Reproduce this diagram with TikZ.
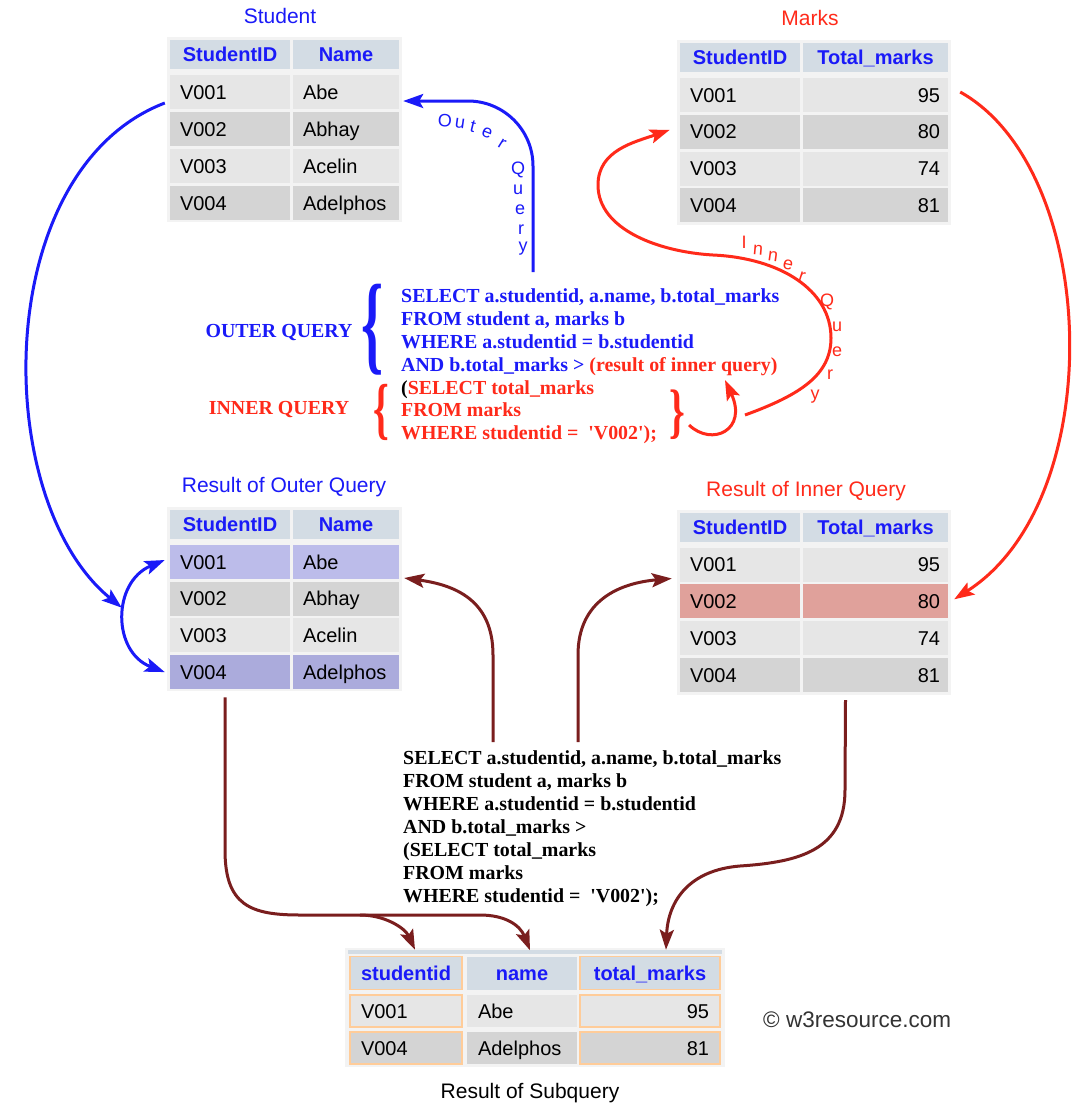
\documentclass[tikz,border=0pt]{standalone}
\usepackage{fontspec}
\usepackage{graphicx}
\setmainfont{Liberation Sans}
\newfontfamily\sqlfamily{Liberation Serif}
\usetikzlibrary{arrows.meta}

\definecolor{qblue}{HTML}{1A1AF8}
\definecolor{qred}{HTML}{FF2A1A}
\definecolor{qdark}{HTML}{7A1E1E}
\definecolor{hdrfill}{HTML}{D3DCE4}
\definecolor{rowa}{HTML}{E6E6E6}
\definecolor{rowb}{HTML}{D4D4D4}
\definecolor{hlblue}{HTML}{BCBCEA}
\definecolor{hlbluedark}{HTML}{ABABDC}
\definecolor{hlred}{HTML}{E0A19B}
\definecolor{cellline}{HTML}{FFCC99}
\definecolor{tblbg}{HTML}{F3F3F3}

\newcommand{\cellfont}{\fontsize{20}{24}\selectfont}
\newcommand{\titlefont}{\fontsize{21}{25}\selectfont}
\newcommand{\sqlfont}{\sqlfamily\bfseries\fontsize{19.9}{23}\selectfont}
\newcommand{\bracefont}{\sqlfamily\bfseries\fontsize{20}{20}\selectfont}

\begin{document}
\begin{tikzpicture}[x=1pt,y=-1pt,>={Stealth[length=20pt,width=14pt,inset=4pt]},
  cell/.style={inner xsep=10pt,inner ysep=0pt,minimum height=34pt,text height=14.3pt,text depth=0pt,font=\cellfont},
  idcell/.style={cell,text width=100pt,align=left},
  namecell/.style={cell,text width=86pt,align=left},
  numcell/.style={cell,inner xsep=8pt,text width=129pt,align=right},
  hdrcell/.style={fill=hdrfill,inner sep=0pt,minimum height=29pt,text height=14.3pt,text depth=0pt,font=\cellfont\bfseries,text=qblue},
  subcell/.style={cell,inner xsep=11pt,minimum height=32pt},
  title/.style={font=\titlefont,inner sep=0pt},
  sqltext/.style={font=\sqlfont,align=left,inner sep=0pt,anchor=north west},
  curvetext/.style={font=\fontsize{18}{20}\selectfont,inner sep=0pt},
  outerline/.style={qblue,line width=3pt},
  innerline/.style={qred,line width=3pt},
  joinline/.style={qdark,line width=3pt}]

  \fill[white] (0,0) rectangle (1077,1106);
  \useasboundingbox (0,0) rectangle (1077,1106);

  % Student
  \fill[tblbg] (167,37) rectangle (402,222);
  \node[title,text=qblue] (stu-title) at (280,16) {Student};
  \node[hdrcell,minimum width=120pt] (stu-h-a) at (230,54) {StudentID};
  \node[hdrcell,minimum width=106pt] (stu-h-b) at (346,54) {Name};
  \foreach \sid/\sname/\rowfill [count=\i] in {V001/Abe/rowa,V002/Abhay/rowb,V003/Acelin/rowa,V004/Adelphos/rowb}{
    \node[idcell,fill=\rowfill] (stu-\i-a) at (230,{92+37*(\i-1)}) {\sid};
    \node[namecell,fill=\rowfill] (stu-\i-b) at (346,{92+37*(\i-1)}) {\sname};
  }

  % Marks
  \fill[tblbg] (677,40) rectangle (951,225);
  \node[title,text=qred] (mk-title) at (810,18) {Marks};
  \node[hdrcell,minimum width=120pt] (mk-h-a) at (740,57.5) {StudentID};
  \node[hdrcell,minimum width=145pt] (mk-h-b) at (875.5,57.5) {Total\_marks};
  \foreach \sid/\smark/\rowfill [count=\i] in {V001/95/rowa,V002/80/rowb,V003/74/rowa,V004/81/rowb}{
    \node[idcell,fill=\rowfill] (mk-\i-a) at (740,{95+36.8*(\i-1)}) {\sid};
    \node[numcell,fill=\rowfill] (mk-\i-b) at (875.5,{95+36.8*(\i-1)}) {\smark};
  }

  % Result of Outer Query
  \fill[tblbg] (167,507) rectangle (402,691);
  \node[title,text=qblue] (ro-title) at (284,487) {Result of Outer Query};
  \node[hdrcell,minimum width=120pt] (ro-h-a) at (230,524) {StudentID};
  \node[hdrcell,minimum width=106pt] (ro-h-b) at (346,524) {Name};
  \foreach \sid/\sname/\rowfill [count=\i] in {V001/Abe/hlblue,V002/Abhay/rowb,V003/Acelin/rowa,V004/Adelphos/hlbluedark}{
    \node[idcell,fill=\rowfill] (ro-\i-a) at (230,{562+36.7*(\i-1)}) {\sid};
    \node[namecell,fill=\rowfill] (ro-\i-b) at (346,{562+36.7*(\i-1)}) {\sname};
  }

  % Result of Inner Query
  \fill[tblbg] (677,510) rectangle (951,695);
  \node[title,text=qred] (ri-title) at (806,491) {Result of Inner Query};
  \node[hdrcell,minimum width=120pt] (ri-h-a) at (740,527) {StudentID};
  \node[hdrcell,minimum width=145pt] (ri-h-b) at (875.5,527) {Total\_marks};
  \foreach \sid/\smark/\rowfill [count=\i] in {V001/95/rowa,V002/80/hlred,V003/74/rowa,V004/81/rowb}{
    \node[idcell,fill=\rowfill] (ri-\i-a) at (740,{564.5+36.8*(\i-1)}) {\sid};
    \node[numcell,fill=\rowfill] (ri-\i-b) at (875.5,{564.5+36.8*(\i-1)}) {\smark};
  }

  % Result of Subquery
  \fill[tblbg] (345,948) rectangle (725,1067);
  \fill[hdrfill] (348,950) rectangle (722,954);
  \node[hdrcell,minimum width=112pt,minimum height=33pt,draw=cellline,line width=1.5pt] (sq-h-a) at (406,973) {studentid};
  \node[hdrcell,minimum width=110pt,minimum height=33pt] (sq-h-b) at (522,973) {name};
  \node[hdrcell,minimum width=140pt,minimum height=33pt,draw=cellline,line width=1.5pt] (sq-h-c) at (650,973) {total\_marks};
  \foreach \sid/\sname/\smark/\rowfill [count=\i] in {V001/Abe/95/rowa,V004/Adelphos/81/rowb}{
    \node[subcell,text width=90pt,align=left,fill=\rowfill,draw=cellline,line width=1.5pt] (sq-\i-a) at (406,{1011+37*(\i-1)}) {\sid};
    \node[subcell,text width=88pt,align=left,fill=\rowfill] (sq-\i-b) at (522,{1011+37*(\i-1)}) {\sname};
    \node[subcell,text width=118pt,align=right,fill=\rowfill,draw=cellline,line width=1.5pt] (sq-\i-c) at (650,{1011+37*(\i-1)}) {\smark};
  }
  \node[title] (sq-title) at (530,1093) {Result of Subquery};
  \node[font=\fontsize{22.5}{25}\selectfont,inner sep=0pt,anchor=west,text=black!80] (copy) at (763,1020) {\textcopyright\ w3resource.com};

  % queries
  \node[sqltext,text=qblue] (outer-sql) at (401,288) {SELECT a.studentid, a.name, b.total\_marks\\
    FROM student a, marks b\\
    WHERE a.studentid = b.studentid\\
    AND b.total\_marks > \textcolor{qred}{(result of inner query)}};
  \node[sqltext,text=qred,font=\sqlfamily\bfseries\fontsize{19.9}{22.5}\selectfont] (inner-sql) at (401,380) {\textcolor{black}{(}SELECT total\_marks\\
    FROM marks\\
    WHERE studentid = \ \textquotesingle V002\textquotesingle);};
  \node[font=\sqlfont,text=qblue,inner sep=0pt] (outer-label) at (279,333) {OUTER QUERY};
  \node[font=\sqlfont,text=qred,inner sep=0pt] (inner-label) at (279,410) {INNER QUERY};
  \node[text=qblue,inner sep=0pt] (brace-outer) at (373,330) {\scalebox{2.8}[5.5]{\bracefont\{}};
  \node[text=qred,inner sep=0pt] (brace-inner) at (381,412) {\scalebox{2.0}[3.4]{\bracefont\{}};
  \node[text=qred,inner sep=0pt] (brace-close) at (677,415) {\scalebox{2.0}[3.0]{\bracefont\}}};
  \node[sqltext,text=black] (full-sql) at (403,750) {SELECT a.studentid, a.name, b.total\_marks\\
    FROM student a, marks b\\
    WHERE a.studentid = b.studentid\\
    AND b.total\_marks >\\
    (SELECT total\_marks\\
    FROM marks\\
    WHERE studentid = \ \textquotesingle V002\textquotesingle);};

  % curved labels
  \foreach \ch/\px/\py/\rot [count=\k] in {O/445/121/-3,u/460/124/-8,t/473/127/-14,e/487/133/-22,r/502/144/-32,Q/518/170/0,u/518/190/0,e/520/210/0,r/521/230/0,y/523/249/0}
    \node[curvetext,text=qblue,rotate=\rot] (oq-\k) at (\px,\py) {\ch};
  \foreach \ch/\px/\py/\rot [count=\k] in {I/744/242/0,n/758/250/-5,n/773/256/-8,e/788/265/-12,r/802/277/-18,Q/827/302/0,u/837/327/0,e/837/352/0,r/830/375/0,y/815/397/0}
    \node[curvetext,text=qred,rotate=\rot] (iq-\k) at (\px,\py) {\ch};

  % blue arrows
  \coordinate (oq-start) at (533,272);
  \draw[outerline,->,rounded corners=65pt] (oq-start) |- ([xshift=4pt,yshift=-9pt]stu-1-b.east);
  \draw[outerline,->] ([xshift=-5pt,yshift=-11pt]stu-1-a.west) .. controls (-10,170) and (-10,500) .. ([xshift=-48pt,yshift=-9pt]ro-2-a.west);
  \draw[outerline,<->] ([xshift=-5pt,yshift=2pt]ro-1-a.west) .. controls (112,582) and (112,652) .. ([xshift=-5pt,yshift=0pt]ro-4-a.west);

  % red arrows
  \coordinate (iq-start) at (745,415);
  \draw[innerline,->] (iq-start) .. controls (800,395) and (831,375) .. (831,338)
    .. controls (831,290) and (780,258) .. (713,255)
    .. controls (660,252) and (598,230) .. (598,185)
    .. controls (598,150) and (635,142) .. ([xshift=-10pt,yshift=2pt]mk-2-a.west);
  \coordinate (result-ref) at (725,380);
  \draw[innerline,->] ([xshift=4pt,yshift=-10pt]brace-close.east) .. controls (712,447) and (748,430) .. (result-ref);
  \draw[innerline,->] ([xshift=12pt,yshift=3pt]mk-1-b.east) .. controls (1100,170) and (1110,500) .. ([xshift=6pt,yshift=2pt]ri-2-b.east);

  % dark red arrows
  \coordinate (join-a) at (493,742);
  \coordinate (join-b) at (578,742);
  \coordinate (dk-fork) at (360,915);
  \draw[joinline,->] (join-a) -- (493,655) .. controls (493,600) and (455,585) .. ([xshift=5pt,yshift=-16pt]ro-1-b.east);
  \draw[joinline,->] (join-b) -- (578,655) .. controls (578,600) and (620,583) .. ([xshift=-8pt,yshift=-14pt]ri-1-a.west);
  \draw[joinline,->] ([xshift=-5pt,yshift=-8pt]ro-4-a.south) -- (225,850) .. controls (225,905) and (250,915) .. (300,915)
    -- (480,915) .. controls (505,915) and (520,925) .. ([xshift=8pt,yshift=6pt]sq-h-b.north);
  \draw[joinline,->] (dk-fork) .. controls (385,915) and (405,928) .. ([xshift=9pt,yshift=6pt]sq-h-a.north);
  \draw[joinline,->] ([xshift=-30pt,yshift=-8pt]ri-4-b.south) -- (845,790) .. controls (845,850) and (800,862) .. (740,866)
    .. controls (690,870) and (668,900) .. ([xshift=16pt,yshift=6pt]sq-h-c.north);
\end{tikzpicture}
\end{document}
